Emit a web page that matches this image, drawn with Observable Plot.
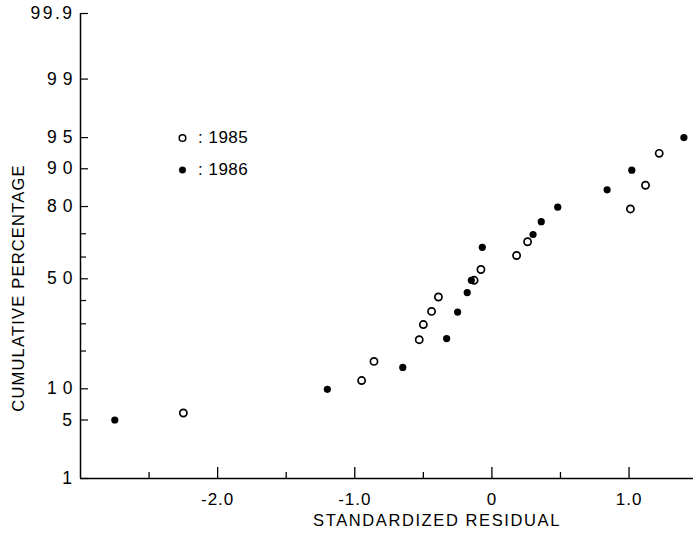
<!DOCTYPE html>
<html>
<head>
<meta charset="utf-8">
<script src="https://cdn.jsdelivr.net/npm/d3@7"></script>
<script src="https://cdn.jsdelivr.net/npm/@observablehq/plot@0.6"></script>
<style>
  body { margin: 0; background: white; }
  #wrap { position: relative; width: 693px; height: 533px; font-family: "Liberation Sans", Arial, sans-serif; }
  .legend-item { position: absolute; display: flex; align-items: center; font-size: 17px; letter-spacing: 0.5px; color: black; }
</style>
</head>
<body>
<div id="wrap"></div>
<script>
// ---- data ----
const resid1985 = [-2.25, -0.95, -0.86, -0.53, -0.50, -0.44, -0.39, -0.13, -0.08, 0.18, 0.26, 1.01, 1.12, 1.22];
const pct1985   = [5.9, 11.8, 16.8, 23.9, 29.7, 35.2, 41.6, 49.3, 54.3, 60.7, 66.7, 79.2, 86.2, 92.8];
const resid1986 = [-2.75, -1.20, -0.65, -0.33, -0.25, -0.18, -0.15, -0.07, 0.30, 0.36, 0.48, 0.84, 1.02, 1.40];
const pct1986   = [5.0, 9.9, 15.1, 24.3, 34.9, 43.6, 49.3, 64.3, 69.7, 74.7, 79.8, 85.0, 89.7, 95.0];

const yTickValues = [1, 5, 10, 50, 80, 90, 95, 99, 99.9];
const yTickLabels = ["1", "5", "10", "50", "80", "90", "95", "99", "99.9"];
const yMinorTicks = [20, 30, 40, 60, 70];
const xMajorTicks = [-2, -1, 0, 1];
const xTickLabels = ["-2.0", "-1.0", "0", "1.0"];
const xMinorTicks = [-2.5, -1.5, -0.5, 0.5];
const xDomain = [-3, 1.47];
const yPctDomain = [1, 99.9];
const seriesNames = ["1985", "1986"];
const xTitle = "STANDARDIZED RESIDUAL";
const yTitle = "CUMULATIVE PERCENTAGE";

// ---- normal probability (probit) transform ----
function probit(p) {
  const a = [-3.969683028665376e+01, 2.209460984245205e+02, -2.759285104469687e+02, 1.383577518672690e+02, -3.066479806614716e+01, 2.506628277459239e+00];
  const b = [-5.447609879822406e+01, 1.615858368580409e+02, -1.556989798598866e+02, 6.680131188771972e+01, -1.328068155288572e+01];
  const c = [-7.784894002430293e-03, -3.223964580411365e-01, -2.400758277161838e+00, -2.549732539343734e+00, 4.374664141464968e+00, 2.938163982698783e+00];
  const d = [7.784695709041462e-03, 3.224671290700398e-01, 2.445134137142996e+00, 3.754408661907416e+00];
  const pl = 0.02425, ph = 1 - pl;
  let q, r;
  if (p < pl) {
    q = Math.sqrt(-2 * Math.log(p));
    return (((((c[0]*q+c[1])*q+c[2])*q+c[3])*q+c[4])*q+c[5]) / ((((d[0]*q+d[1])*q+d[2])*q+d[3])*q+1);
  }
  if (p <= ph) {
    q = p - 0.5; r = q * q;
    return (((((a[0]*r+a[1])*r+a[2])*r+a[3])*r+a[4])*r+a[5])*q / (((((b[0]*r+b[1])*r+b[2])*r+b[3])*r+b[4])*r+1);
  }
  q = Math.sqrt(-2 * Math.log(1 - p));
  return -(((((c[0]*q+c[1])*q+c[2])*q+c[3])*q+c[4])*q+c[5]) / ((((d[0]*q+d[1])*q+d[2])*q+d[3])*q+1);
}
const z = pct => probit(pct / 100);

const points = [
  ...resid1985.map((r, i) => ({ year: seriesNames[0], resid: r, pct: pct1985[i] })),
  ...resid1986.map((r, i) => ({ year: seriesNames[1], resid: r, pct: pct1986[i] }))
];
const yTicks = yTickValues.map((v, i) => ({ v, label: yTickLabels[i] }));
const xTicks = xMajorTicks.map((v, i) => ({ v, label: xTickLabels[i] }));

const W = 693, H = 533, mT = 13, mB = 55, mL = 80, mR = 0;
const frameW = W - mL - mR, frameH = H - mT - mB;

const chart = Plot.plot({
  width: W, height: H,
  marginTop: mT, marginBottom: mB, marginLeft: mL, marginRight: mR,
  x: { domain: xDomain, axis: null },
  y: { domain: yPctDomain.map(z), axis: null },
  style: { fontFamily: "'Liberation Sans', Arial, sans-serif", fontSize: "16px", color: "black", background: "white" },
  marks: [
    Plot.ruleX([xDomain[0]], { stroke: "black", strokeWidth: 1.5 }),
    Plot.ruleY([z(yPctDomain[0])], { stroke: "black", strokeWidth: 1.5 }),
    Plot.tickY(yTickValues, { y: z, insetRight: frameW - 8, stroke: "black", strokeWidth: 1.2 }),
    Plot.tickY(yMinorTicks, { y: z, insetRight: frameW - 6, stroke: "black", strokeWidth: 1.2 }),
    Plot.tickX(xMajorTicks, { x: d => d, insetTop: frameH - 11, stroke: "black", strokeWidth: 1.3 }),
    Plot.tickX(xMinorTicks, { x: d => d, insetTop: frameH - 6, stroke: "black", strokeWidth: 1.3 }),
    Plot.text(yTicks.filter(d => d.label.length === 2), { y: d => z(d.v), text: "label", frameAnchor: "left", textAnchor: "end", lineAnchor: "middle", dx: -2, fontSize: 17.5 }),
    Plot.text(yTicks.filter(d => d.label.length !== 2), { y: d => z(d.v), text: "label", frameAnchor: "left", textAnchor: "end", lineAnchor: "middle", dx: -6, fontSize: 17.5 }),
    Plot.text(xTicks, { x: "v", text: "label", frameAnchor: "bottom", textAnchor: "middle", lineAnchor: "middle", dy: 21, fontSize: 17 }),
    Plot.text([xTitle], { frameAnchor: "bottom", textAnchor: "middle", lineAnchor: "middle", dx: 50, dy: 42, fontSize: 16.5 }),
    Plot.text([yTitle], { frameAnchor: "left", textAnchor: "middle", lineAnchor: "middle", rotate: -90, dx: -62, dy: 42, fontSize: 16.5 }),
    Plot.dot(points.filter(d => d.year === seriesNames[0]), { x: "resid", y: d => z(d.pct), r: 3.6, fill: "white", stroke: "black", strokeWidth: 1.7 }),
    Plot.dot(points.filter(d => d.year === seriesNames[1]), { x: "resid", y: d => z(d.pct), r: 3.6, fill: "black", stroke: "none" })
  ]
});

// letter spacing (not a Plot option) applied by text content
chart.querySelectorAll("text").forEach(t => {
  const s = t.textContent;
  let ls = null;
  if (s === xTitle) ls = "1.6px";
  else if (s === yTitle) ls = "1.2px";
  else if (xTickLabels.includes(s)) ls = "1px";
  else if (yTickLabels.includes(s)) ls = s.length === 2 ? "6px" : "2.5px";
  if (ls) { t.setAttribute("letter-spacing", ls); t.style.letterSpacing = ls; }
});

const wrap = document.getElementById("wrap");
wrap.appendChild(chart);

// legend (HTML overlay)
const legendStyles = [{ fill: "white", stroke: "black" }, { fill: "black", stroke: "black" }];
seriesNames.forEach((name, i) => {
  const item = document.createElement("div");
  item.className = "legend-item";
  item.style.left = "177px";
  item.style.top = (128 + i * 32) + "px";
  item.innerHTML = `<svg width="11" height="20" style="margin-right:10px"><circle cx="5.5" cy="10" r="3.3" fill="${legendStyles[i].fill}" stroke="${legendStyles[i].stroke}" stroke-width="${i === 0 ? 1.5 : 0.5}"/></svg><span>:&nbsp;${name}</span>`;
  wrap.appendChild(item);
});
</script>
</body>
</html>
